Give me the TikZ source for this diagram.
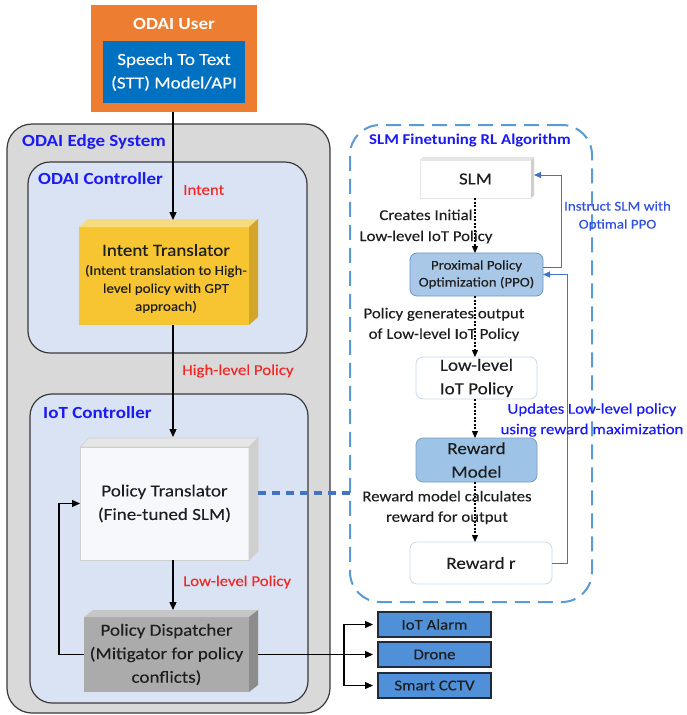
\documentclass[tikz,border=0pt]{standalone}
\usepackage{fontspec}
\setmainfont{Carlito}[FakeStretch=1.12, UprightFeatures={FakeBold=0.15}]
\usetikzlibrary{arrows.meta}
\definecolor{uorange}{HTML}{ED7D31}
\definecolor{sttblue}{HTML}{0070C0}
\definecolor{edgegray}{HTML}{D9D9D9}
\definecolor{edgeborder}{HTML}{3A3A3A}
\definecolor{ctrlfill}{HTML}{DAE3F3}
\definecolor{lblblue}{HTML}{1A1AF5}
\definecolor{lblred}{HTML}{F02828}
\definecolor{yfront}{HTML}{F7C531}
\definecolor{ytop}{HTML}{F8DA80}
\definecolor{yside}{HTML}{D3A62A}
\definecolor{wfront}{HTML}{F7F8FC}
\definecolor{wtop}{HTML}{E6E6E6}
\definecolor{wside}{HTML}{CFCFCF}
\definecolor{gfront}{HTML}{ABABAB}
\definecolor{gtop}{HTML}{C6C6C6}
\definecolor{gside}{HTML}{8C8C8C}
\definecolor{dashblue}{HTML}{5B9BD5}
\definecolor{lineblue}{HTML}{4472C4}
\definecolor{ppofill}{HTML}{A9C8E8}
\definecolor{ppoborder}{HTML}{6A95C5}
\definecolor{rmfill}{HTML}{9DC3E6}
\definecolor{rmborder}{HTML}{7F9CBE}
\definecolor{llborder}{HTML}{C9DAF0}
\definecolor{outfill}{HTML}{5090D8}
\definecolor{outborder}{HTML}{1F2A3A}
\definecolor{instblue}{HTML}{3050E0}
\definecolor{txt}{HTML}{1E1E1E}
\newcommand\szBig{\fontsize{17}{23.5}\selectfont}
\newcommand\szMid{\fontsize{15}{20.5}\selectfont}
\newcommand\szSmall{\fontsize{13.4}{18}\selectfont}
\newcommand\szPPO{\fontsize{13.3}{17}\selectfont}
\begin{document}
\begin{tikzpicture}[x=1pt,y=-1pt, every node/.style={text=txt},
  box/.style={inner sep=0, outer sep=0},
  grouplbl/.style={anchor=base west, inner sep=0, text=lblblue, font=\fontsize{17}{20}\selectfont\bfseries},
  redlbl/.style={anchor=west, inner sep=0, text=lblred, font=\szMid},
  arr/.style={-{Triangle[length=8pt,width=7pt]}, line width=1.3pt, black},
  dotarr/.style={-{Triangle[length=7pt,width=6pt]}, line width=1.2pt, dash pattern=on 2pt off 1.5pt, black},
  bluearr/.style={-{Triangle[length=7pt,width=6pt]}, line width=1pt, lineblue},
  outbox/.style={box, draw=outborder, line width=1.2pt, fill=outfill, minimum width=113, minimum height=25, font=\szMid},
  rlbox/.style={box, rounded corners=7, align=center, font=\szBig}
]
\useasboundingbox (0,0) rectangle (686,715);
\fill[white] (0,0) rectangle (686,715);

% ODAI user
\node[box, fill=uorange, minimum width=166, minimum height=107] (user) at (174,58.5) {};
\node[inner sep=0, text=white, font=\szBig\bfseries] (usertitle) at (174,24) {ODAI User};
\node[box, fill=sttblue, minimum width=142, minimum height=62, align=center, text=white, font=\szBig] (stt) at (174,72) {Speech To Text\\(STT) Model/API};

% Edge system
\node[box, draw=edgeborder, line width=1.2pt, fill=edgegray, rounded corners=25, minimum width=323, minimum height=589] (edge) at (168.5,418.5) {};
\node[grouplbl] (edgelbl) at (22,146) {ODAI Edge System};

% ODAI controller
\node[box, draw=edgeborder, line width=1.2pt, fill=ctrlfill, rounded corners=22, minimum width=279, minimum height=191] (odaictrl) at (167.5,257.5) {};
\node[grouplbl] (odailbl) at (38,184) {ODAI Controller};

% IoT controller
\node[box, draw=edgeborder, line width=1.2pt, fill=ctrlfill, rounded corners=22, minimum width=278, minimum height=309] (iotctrl) at (169,548.5) {};
\node[grouplbl] (iotlbl) at (43,418) {IoT Controller};

% Intent translator (3D)
\node[box, fill=yfront, minimum width=170, minimum height=98] (it) at (164,276) {};
\fill[ytop] (it.north west) -- ++(9,-8) -- ([shift={(9,-8)}]it.north east) -- (it.north east) -- cycle;
\fill[yside] (it.north east) -- ++(9,-8) -- ([shift={(9,-8)}]it.south east) -- (it.south east) -- cycle;
\node[inner sep=0, font=\szBig] (ittitle) at (166,250) {Intent Translator};
\node[inner sep=0, align=center, font=\szSmall] (itsub) at (166,289) {(Intent translation to High-\\level policy with GPT\\approach)};

% Policy translator (3D)
\node[box, fill=wfront, draw=wside, line width=0.6pt, minimum width=169, minimum height=113, align=center, font=\szBig] (pt) at (164.5,503.5) {Policy Translator\\(Fine-tuned SLM)};
\fill[wtop, draw=wside, line width=0.6pt] (pt.north west) -- ++(9,-9) -- ([shift={(9,-9)}]pt.north east) -- (pt.north east) -- cycle;
\fill[wside, draw=wside, line width=0.6pt] (pt.north east) -- ++(9,-9) -- ([shift={(9,-9)}]pt.south east) -- (pt.south east) -- cycle;

% Policy dispatcher (3D)
\node[box, fill=gfront, minimum width=165, minimum height=75, align=center, font=\szBig] (pd) at (166.5,654.5) {Policy Dispatcher\\(Mitigator for policy\\conflicts)};
\fill[gtop] (pd.north west) -- ++(9,-7) -- ([shift={(9,-7)}]pd.north east) -- (pd.north east) -- cycle;
\fill[gside] (pd.north east) -- ++(9,-7) -- ([shift={(9,-7)}]pd.south east) -- (pd.south east) -- cycle;

% red labels
\node[redlbl] (intentlbl) at (183,190) {Intent};
\node[redlbl] (hllbl) at (182,371) {High-level Policy};
\node[redlbl] (lllbl) at (183,582) {Low-level Policy};

% main arrows
\coordinate (itTop) at (173,220);
\coordinate (ptTop) at (173,437);
\coordinate (pdTop) at (173,610);
\draw[arr] (user.south -| itTop) -- (itTop);
\draw[arr] (it.south -| ptTop) -- (ptTop);
\draw[arr] (pt.south -| pdTop) -- (pdTop);
\draw[arr] (pd.west) -- ++(-25,0) |- (pt.west);

% outputs
\node[outbox] (alarm) at (434.5,624.5) {IoT Alarm};
\node[outbox] (drone) at (434.5,654.5) {Drone};
\node[outbox] (cctv) at (434.5,685.5) {Smart CCTV};
\coordinate (pdR) at ([xshift=9pt]pd.east);
\coordinate (split) at (344,654.5);
\draw[line width=1.3pt] (pdR) -- (split);
\draw[arr, shorten >=5pt] (split) |- (alarm.west);
\draw[arr, shorten >=5pt] (split) -- (drone.west);
\draw[arr, shorten >=5pt] (split) |- (cctv.west);

% RL panel
\node[box, draw=dashblue, dash pattern=on 15pt off 8pt, line width=2pt, rounded corners=30, minimum width=242, minimum height=477] (rl) at (471,363.5) {};
\node[inner sep=0, text=lblblue, font=\szMid\bfseries] (rltitle) at (470,141) {SLM Finetuning RL Algorithm};

\node[box, fill=white, draw=wtop, line width=0.6pt, minimum width=111, minimum height=38, font=\szBig] (slm) at (475.5,179) {SLM};
\fill[wtop] (slm.north west) -- ++(3,-3) -- ([shift={(3,-3)}]slm.north east) -- (slm.north east) -- cycle;
\fill[wside] (slm.north east) -- ++(3,-3) -- ([shift={(3,-3)}]slm.south east) -- (slm.south east) -- cycle;

\node[rlbox, fill=ppofill, draw=ppoborder, line width=0.8pt, minimum width=133, minimum height=43, font=\szPPO] (ppo) at (476.5,274.5) {Proximal Policy\\Optimization (PPO)};
\node[rlbox, fill=white, draw=llborder, line width=0.8pt, minimum width=121, minimum height=42] (ll) at (476.5,378) {Low-level\\IoT Policy};
\node[rlbox, fill=rmfill, draw=rmborder, line width=0.8pt, minimum width=121, minimum height=44] (rm) at (476.5,460) {Reward\\Model};
\node[rlbox, fill=white, draw=llborder, line width=0.8pt, minimum width=142, minimum height=42] (rr) at (481,563) {Reward r};

\draw[dotarr] (slm.south -| 475,0) -- (475,253);
\draw[dotarr] (ppo.south -| 475,0) -- (ll.north -| 475,0);
\draw[dotarr] (ll.south -| 475,0) -- (rm.north -| 475,0);
\draw[dotarr] (rm.south -| 475,0) -- (rr.north -| 475,0);

\node[inner sep=0, align=center, font=\fontsize{15}{21}\selectfont] (creates) at (426,226.5) {Creates Initial\\Low-level IoT Policy};
\node[inner sep=0, align=center, font=\szMid] (generates) at (444,324.5) {Policy generates output\\of Low-level IoT Policy};
\node[inner sep=0, align=center, font=\szMid] (calc) at (447,507.5) {Reward model calculates\\reward for output};

\draw[bluearr] ([yshift=7.5pt]ppo.east) -- ++(18,0) |- ([xshift=3pt,yshift=4pt]slm.east);
\draw[bluearr] (rr.east) -- ++(15,0) |- (ppo.east);
\node[inner sep=0, align=center, text=instblue, font=\szSmall] (instr) at (617.5,216) {Instruct SLM with\\Optimal PPO};
\node[inner sep=0, align=center, text=lblblue, font=\szMid] (upd) at (592,420) {Updates Low-level policy\\using reward maximization};

% link from policy translator to RL panel
\coordinate (ptR) at ([xshift=9pt,yshift=10.5pt]pt.east);
\draw[lineblue, line width=4pt, dash pattern=on 8pt off 6pt] (ptR) -- (ptR -| rl.west);
\end{tikzpicture}
\end{document}
